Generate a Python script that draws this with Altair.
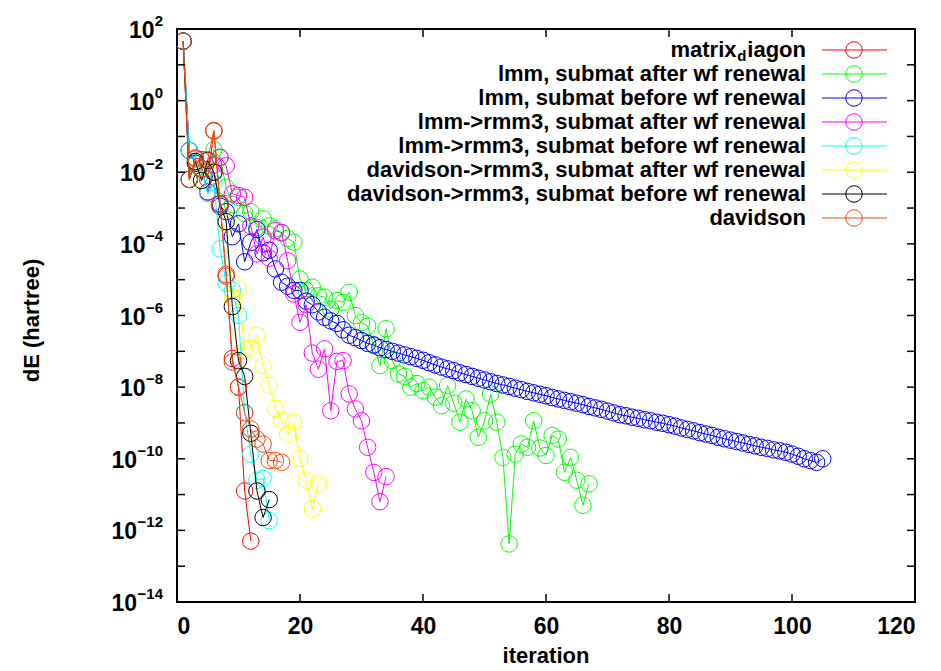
import altair as alt
import pandas as pd

# ---------------- data (log10 of dE in hartree, iteration starts at 1) ----------------
series_names = [
    "matrix_diagon",
    "lmm, submat after wf renewal",
    "lmm, submat before wf renewal",
    "lmm->rmm3, submat after wf renewal",
    "lmm->rmm3, submat before wf renewal",
    "davidson->rmm3, submat after wf renewal",
    "davidson->rmm3, submat before wf renewal",
    "davidson",
]
series_colors = ["#ff0000", "#00ff00", "#0000ff", "#ff00ff",
                 "#00ffff", "#ffff00", "#000000", "#f04e0c"]

log_matrix_diagon = [1.66, -2.2, -1.6, -1.65, -2.2, -0.85, -2.9, -4.9, -7.2, -8.0, -10.9, -12.3]

log_lmm_after = [1.66, -1.39, -1.75, -1.9, -2.55, -1.37, -1.6, -2.42, -2.9, -2.7,
                 -3.15, -3.1, -3.54, -3.3, -3.5, -3.58, -3.7, -3.85, -3.95, -4.98,
                 -5.3, -5.21, -5.45, -5.49, -5.82, -5.58, -5.63, -5.35, -6.0, -6.2,
                 -6.3, -6.84, -7.4, -6.37, -7.26, -7.63, -7.7, -8.0, -7.9, -8.1,
                 -8.0, -8.28, -8.52, -7.96, -8.45, -8.98, -8.33, -8.66, -9.4, -8.94,
                 -8.19, -8.98, -9.96, -12.38, -9.87, -9.59, -9.68, -8.94, -9.7, -9.91,
                 -9.35, -9.45, -10.38, -9.96, -10.6, -11.3, -10.7]

log_lmm_before = [1.66, -1.39, -1.75, -1.9, -2.55, -2.0, -2.95, -3.1, -3.8, -3.44,
                  -4.5, -3.96, -3.6, -4.25, -4.18, -4.7, -5.07, -5.18, -5.3, -5.3,
                  -5.6, -5.7, -5.9, -6.05, -6.15, -6.22, -6.4, -6.55, -6.62, -6.7,
                  -6.78, -6.82, -6.9, -6.95, -7.0, -7.05, -7.1, -7.15, -7.2, -7.25,
                  -7.32, -7.38, -7.44, -7.49, -7.54, -7.6, -7.65, -7.7, -7.75, -7.8,
                  -7.85, -7.9, -7.94, -7.98, -8.03, -8.07, -8.12, -8.16, -8.2, -8.24,
                  -8.29, -8.33, -8.37, -8.41, -8.45, -8.49, -8.54, -8.58, -8.62, -8.67,
                  -8.72, -8.77, -8.8, -8.84, -8.87, -8.91, -8.94, -8.98, -9.01, -9.05,
                  -9.09, -9.14, -9.18, -9.22, -9.27, -9.31, -9.35, -9.4, -9.44, -9.48,
                  -9.52, -9.56, -9.6, -9.64, -9.68, -9.71, -9.75, -9.78, -9.82, -9.87,
                  -9.93, -10.0, -10.05, -10.1, -10.0]

log_lmm_rmm3_after = [1.66, -1.39, -1.7, -1.9, -2.55, -1.8, -1.58, -1.82, -2.6, -2.65,
                      -2.7, -3.5, -4.28, -3.81, -4.4, -3.63, -3.68, -4.47, -5.4, -6.19,
                      -5.7, -7.05, -7.5, -6.93, -8.66, -7.28, -7.26, -8.19, -8.61, -8.94,
                      -9.68, -10.38, -11.2, -10.5]

log_lmm_rmm3_before = [1.66, -1.39, -1.7, -1.95, -2.6, -2.3, -4.14, -5.1, -5.3, -6.0,
                       -8.7, -9.87, -10.6, -10.55, -11.73]

log_dav_rmm3_after = [1.66, -2.2, -1.65, -2.2, -1.67, -2.0, -2.88, -3.4, -5.5, -5.25,
                      -6.95, -6.9, -6.55, -7.4, -7.95, -8.6, -8.92, -9.31, -8.98, -10.0,
                      -10.6, -11.4, -10.7]

log_dav_rmm3_before = [1.66, -2.2, -1.7, -2.23, -1.67, -2.0, -2.88, -3.38, -5.75, -7.26,
                       -7.7, -9.29, -10.9, -11.64, -11.14]

log_davidson = [1.66, -2.2, -1.63, -1.9, -1.65, -0.83, -2.88, -4.85, -7.3, -8.0,
                -8.72, -9.17, -9.45, -9.59, -10.05, -10.05, -10.1]

all_series = [log_matrix_diagon, log_lmm_after, log_lmm_before, log_lmm_rmm3_after,
              log_lmm_rmm3_before, log_dav_rmm3_after, log_dav_rmm3_before, log_davidson]

x_tick_values = [0, 20, 40, 60, 80, 100, 120]
y_decades = list(range(-14, 3))
y_label_exponents = [2, 0, -2, -4, -6, -8, -10, -12, -14]

# ---------------- layout ----------------
W, H = 738, 573
FONT = "Liberation Sans"

xscale = alt.Scale(domain=[0, 120], nice=False, zero=False)
yscale = alt.Scale(type="log", domain=[1e-14, 1e2], nice=False)

layers = []
for name, color, vals in zip(series_names, series_colors, all_series):
    df = pd.DataFrame({"iteration": list(range(1, len(vals) + 1)),
                       "dE": [10 ** v for v in vals]})
    base = alt.Chart(df).encode(
        x=alt.X("iteration:Q", scale=xscale,
                axis=alt.Axis(values=x_tick_values, ticks=False, domain=False, grid=False,
                              labelFont=FONT, labelFontSize=23, labelFontWeight="bold",
                              labelColor="black", labelPadding=13, title=None)),
        y=alt.Y("dE:Q", scale=yscale, axis=None),
    )
    layers.append(base.mark_line(color=color, strokeWidth=1, clip=True))
    layers.append(base.mark_point(shape="circle", filled=False, color=color,
                                  size=272, strokeWidth=1, opacity=1, clip=True))

# inward ticks (gnuplot style, mirrored)
xt = pd.DataFrame({"t": x_tick_values})
yt = pd.DataFrame({"v": [10.0 ** d for d in y_decades]})
tick_style = dict(color="black", strokeWidth=1.5)
layers.append(alt.Chart(xt).mark_rule(**tick_style).encode(
    x=alt.X("t:Q", scale=xscale), y=alt.value(H), y2=alt.value(H - 8)))
layers.append(alt.Chart(xt).mark_rule(**tick_style).encode(
    x=alt.X("t:Q", scale=xscale), y=alt.value(0), y2=alt.value(8)))
layers.append(alt.Chart(yt).mark_rule(**tick_style).encode(
    y=alt.Y("v:Q", scale=yscale), x=alt.value(0), x2=alt.value(8)))
layers.append(alt.Chart(yt).mark_rule(**tick_style).encode(
    y=alt.Y("v:Q", scale=yscale), x=alt.value(W - 8), x2=alt.value(W)))

# y tick labels: "10" with superscript exponent, right aligned
def exp_text(e):
    return str(e).replace("-", "\u2212")

exp_width = {1: 8.5, 2: 17.5, 3: 26.0}
groups = {}
for e in y_label_exponents:
    groups.setdefault(len(exp_text(e)), []).append(e)
for n, exps in groups.items():
    d = pd.DataFrame({"v": [10.0 ** e for e in exps],
                      "base": ["10"] * len(exps),
                      "ex": [exp_text(e) for e in exps]})
    layers.append(alt.Chart(d).mark_text(
        font=FONT, fontSize=23, fontWeight="bold", align="right", baseline="middle",
        color="black", dy=2).encode(
        y=alt.Y("v:Q", scale=yscale), x=alt.value(-14 - exp_width[n]), text="base:N"))
    layers.append(alt.Chart(d).mark_text(
        font=FONT, fontSize=15, fontWeight="bold", align="right", baseline="middle",
        color="black", dy=-8).encode(
        y=alt.Y("v:Q", scale=yscale), x=alt.value(-14), text="ex:N"))

# axis titles
layers.append(alt.Chart(pd.DataFrame({"t": ["iteration"]})).mark_text(
    font=FONT, fontSize=22, fontWeight="bold", align="center", baseline="middle",
    color="black").encode(x=alt.value(W / 2), y=alt.value(H + 54), text="t:N"))
layers.append(alt.Chart(pd.DataFrame({"t": ["dE (hartree)"]})).mark_text(
    font=FONT, fontSize=22, fontWeight="bold", align="center", baseline="middle",
    angle=270, color="black").encode(x=alt.value(-145), y=alt.value(H / 2 + 5), text="t:N"))

# legend (gnuplot style: label, then line with symbol)
LEG_TEXT_X, LEG_L0, LEG_L1, LEG_SYM = 629, 645, 710, 677
for k, (name, color) in enumerate(zip(series_names, series_colors)):
    ry = 21 + 24 * k
    one = pd.DataFrame({"label": [name]})
    if name == "matrix_diagon":
        parts = [("iagon", 22, LEG_TEXT_X, 0), ("d", 15, LEG_TEXT_X - 59.5, 6),
                 ("matrix", 22, LEG_TEXT_X - 69.5, 0)]
        for txt, fs, px, ddy in parts:
            layers.append(alt.Chart(pd.DataFrame({"label": [txt]})).mark_text(
                font=FONT, fontSize=fs, fontWeight="bold", align="right",
                baseline="middle", color="black", dy=ddy).encode(
                x=alt.value(px), y=alt.value(ry), text="label:N"))
    else:
        layers.append(alt.Chart(one).mark_text(
            font=FONT, fontSize=22, fontWeight="bold", align="right",
            baseline="middle", color="black").encode(
            x=alt.value(LEG_TEXT_X), y=alt.value(ry), text="label:N"))
    layers.append(alt.Chart(one).mark_rule(color=color, strokeWidth=1).encode(
        x=alt.value(LEG_L0), x2=alt.value(LEG_L1), y=alt.value(ry)))
    layers.append(alt.Chart(one).mark_point(shape="circle", filled=False, color=color,
                                            size=272, strokeWidth=1, opacity=1).encode(
        x=alt.value(LEG_SYM), y=alt.value(ry)))

chart = alt.layer(*layers).properties(
    width=W, height=H,
    autosize=alt.AutoSizeParams(type="none"),
    padding={"left": 169, "top": 21, "right": 10, "bottom": 67},
    background="white",
).configure_view(stroke="black", strokeWidth=2)

chart.save("out.html", embed_options={"renderer": "svg", "actions": False})
